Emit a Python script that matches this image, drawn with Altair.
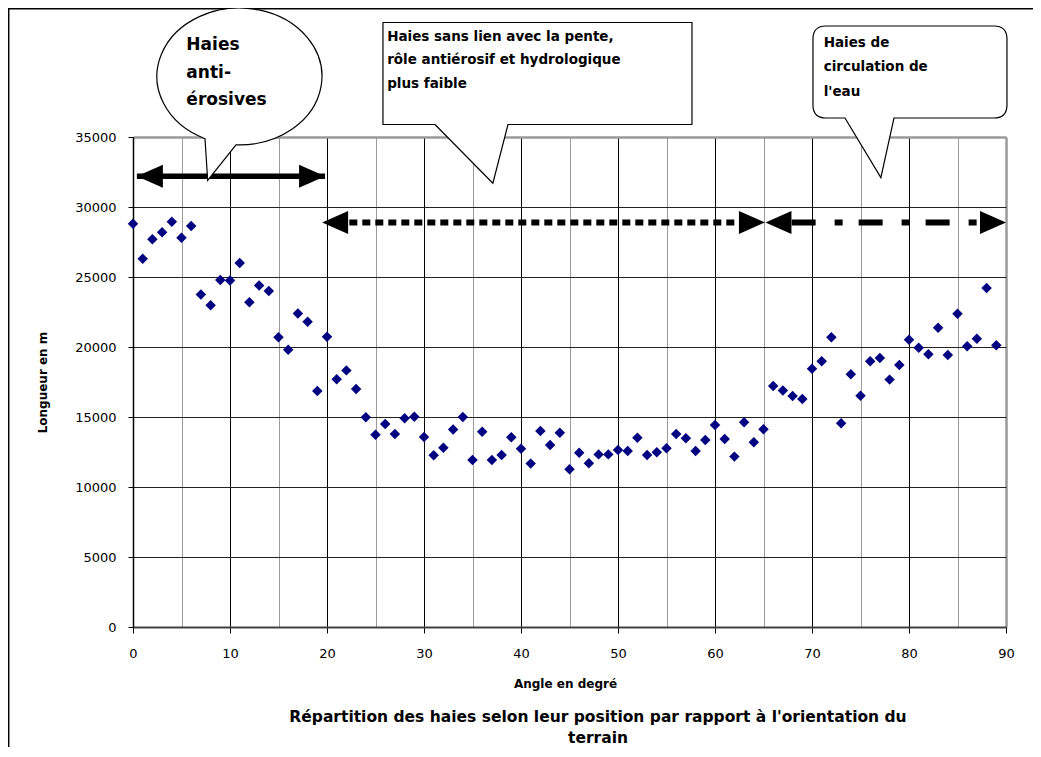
import altair as alt
import pandas as pd

# ---------------- data ----------------
angles = list(range(90))
lengths = [28800, 26300, 27700, 28200, 28950, 27800, 28650, 23750, 22980, 24790,
           24750, 26000, 23200, 24400, 24000, 20700, 19800, 22400, 21800, 16850,
           20740, 17700, 18330, 17000, 14980, 13740, 14500, 13790, 14910, 15020,
           13570, 12260, 12810, 14100, 15000, 11930, 13950, 11930, 12290, 13550,
           12740, 11670, 14000, 13000, 13880, 11260, 12450, 11690, 12330, 12330,
           12640, 12570, 13520, 12290, 12480, 12760, 13790, 13480, 12570, 13360,
           14430, 13430, 12170, 14620, 13190, 14120, 17210, 16900, 16500, 16290,
           18450, 18980, 20690, 14550, 18050, 16520, 18980, 19210, 17670, 18710,
           20520, 19950, 19480, 21380, 19430, 22380, 20050, 20590, 24210, 20120]

x_ticks = list(range(0, 91, 5))
y_ticks = list(range(0, 35001, 5000))

x_title = "Angle en degré"
y_title = "Longueur en m"
chart_title = "Répartition des haies selon leur position par rapport à l'orientation du\nterrain"

# annotation anchors (data units: degrees, metres)
arrow_x1 = [0.4, 22.3, 67.9]
arrow_x2 = [19.8, 62.4, 87.5]
arrow_y = [32200, 28900, 28900]
head_left_x = [0.4, 19.5, 65.2]
head_right_x = [19.8, 65.15, 90.0]

callout_texts = ["Haies\nanti-\nérosives",
                 "Haies sans lien avec la pente,\nrôle antiérosif et hydrologique\nplus faible",
                 "Haies de\ncirculation de\nl'eau"]
callout_apex_x = [7.7, 37.1, 77.1]
callout_apex_y = [31900, 31700, 32100]
text_x = [5.5, 26.2, 71.2]
text_y = [41200, 41850, 41460]

FONT = "DejaVu Sans"

df = pd.DataFrame({"angle": angles, "longueur": lengths})
xs = alt.Scale(domain=[0, 90], nice=False, zero=False)
ys = alt.Scale(domain=[0, 35000], nice=False)

x_axis = alt.Axis(
    values=x_ticks, title=x_title, grid=True,
    gridColor={"condition": {"test": "datum.value % 10 === 0 && datum.value < 90", "value": "#000000"},
               "value": "#9a9a9a"},
    gridWidth={"condition": {"test": "datum.value === 90", "value": 2.5}, "value": 1},
    tickOpacity={"condition": {"test": "datum.value % 10 === 0", "value": 1}, "value": 0},
    labelExpr="datum.value % 10 === 0 ? datum.label : ''",
    labelOverlap=False, labelFlush=False,
    tickColor="#000000", tickSize=6, labelPadding=14,
    labelFont=FONT, labelFontSize=13, labelColor="#000000",
    domainColor="#404040", domainWidth=2,
    titleFont=FONT, titleFontSize=12, titleFontWeight="bold", titleColor="#000000",
    titleX=432, titleY=51,
)
y_axis = alt.Axis(
    values=y_ticks, title=y_title, grid=True, format="d",
    gridColor={"condition": {"test": "datum.value === 35000", "value": "#9a9a9a"}, "value": "#222222"},
    gridWidth={"condition": {"test": "datum.value === 35000", "value": 2.5}, "value": 1},
    labelOverlap=False, labelFlush=False,
    tickColor="#000000", tickSize=5, labelPadding=12,
    labelFont=FONT, labelFontSize=13, labelColor="#000000",
    domainColor="#000000", domainWidth=1.5,
    titleFont=FONT, titleFontSize=12, titleFontWeight="bold", titleColor="#000000",
    titleX=-84,
)


def X(field):
    return alt.X(field, scale=xs, axis=x_axis)


def Y(field):
    return alt.Y(field, scale=ys, axis=y_axis)


points = alt.Chart(df).mark_point(shape="diamond", filled=True, size=110, color="#000080", opacity=1).encode(
    x=X("angle:Q"), y=Y("longueur:Q"))

one = alt.Data(values=[{}])
frame_left = alt.Chart(one).mark_rule(color="black", strokeWidth=1.5).encode(
    x=alt.value(-124.3), y=alt.value(-129), y2=alt.value(625))
frame_top = alt.Chart(one).mark_rule(color="black", strokeWidth=1.5).encode(
    x=alt.value(-125), x2=alt.value(900), y=alt.value(-128.3))
caption = alt.Chart(one).mark_text(align="center", baseline="alphabetic", font=FONT, fontSize=15.5,
                                   fontWeight="bold", color="black", lineBreak="\n",
                                   lineHeight=20.5).encode(
    x=alt.value(465), y=alt.value(585), text=alt.value(chart_title))

arr_df = pd.DataFrame({"x1": arrow_x1, "x2": arrow_x2, "y": arrow_y, "k": [0, 1, 2]})


def arrow_line(k, dash, width):
    m = dict(color="black", strokeWidth=width)
    if dash:
        m["strokeDash"] = dash
    return alt.Chart(arr_df[arr_df.k == k]).mark_rule(**m).encode(
        x=X("x1:Q"), x2="x2:Q", y=Y("y:Q"))


line1 = arrow_line(0, None, 5.5)
line2 = arrow_line(1, [8, 5], 6)
line3 = arrow_line(2, [24, 19, 8, 16], 6)

hl = pd.DataFrame({"x": head_left_x, "y": arrow_y})
hr = pd.DataFrame({"x": head_right_x, "y": arrow_y})
heads_left = alt.Chart(hl).mark_point(shape="M0,0 L26,-11.5 L26,11.5 Z", size=4, filled=True,
                                      color="black", opacity=1, strokeWidth=0).encode(
    x=X("x:Q"), y=Y("y:Q"))
heads_right = alt.Chart(hr).mark_point(shape="M0,0 L-26,-11.5 L-26,11.5 Z", size=4, filled=True,
                                       color="black", opacity=1, strokeWidth=0).encode(
    x=X("x:Q"), y=Y("y:Q"))

shapes = [
    "M-2.7,-41.7 L0,0 L28.3,-35.5 A82.5,68.5 0 1 0 -2.7,-41.7 Z",
    "M-57.9,-58.7 L0,0 L15.1,-58.7 L199.1,-58.7 L199.1,-160.7 L-109.9,-160.7 L-109.9,-58.7 Z",
    "M-35.9,-59.6 L0,0 L13.1,-59.6 L113.1,-59.6 Q126.1,-59.6 126.1,-72.6 L126.1,-138.6 "
    "Q126.1,-151.6 113.1,-151.6 L-54.9,-151.6 Q-67.9,-151.6 -67.9,-138.6 L-67.9,-72.6 "
    "Q-67.9,-59.6 -54.9,-59.6 Z",
]
text_sizes = [17, 13.5, 13.5]
line_heights = [27.5, 23.3, 24.5]

callouts = []
texts = []
for i in range(3):
    cdf = pd.DataFrame({"x": [callout_apex_x[i]], "y": [callout_apex_y[i]]})
    callouts.append(alt.Chart(cdf).mark_point(shape=shapes[i], size=4, filled=True, fill="white",
                                              stroke="black", strokeWidth=1.2, opacity=1).encode(
        x=X("x:Q"), y=Y("y:Q")))
    tdf = pd.DataFrame({"x": [text_x[i]], "y": [text_y[i]], "t": [callout_texts[i]]})
    texts.append(alt.Chart(tdf).mark_text(align="left", baseline="alphabetic", font=FONT,
                                          fontSize=text_sizes[i], fontWeight="bold", color="black",
                                          lineBreak="\n", lineHeight=line_heights[i]).encode(
        x=X("x:Q"), y=Y("y:Q"), text="t:N"))

chart = alt.layer(
    points, frame_left, frame_top, caption, line1, line2, line3, heads_left, heads_right,
    *callouts, *texts
).properties(
    width=873, height=490,
    padding={"left": 125, "top": 129, "right": 27, "bottom": 120},
    autosize=alt.AutoSizeParams(type="none"),
).configure_view(strokeWidth=0).configure(background="white")

chart.save("out.html", embed_options={"renderer": "svg", "actions": False})
